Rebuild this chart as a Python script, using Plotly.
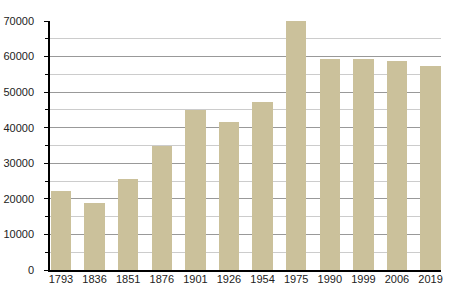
import plotly.graph_objects as go

years = ["1793", "1836", "1851", "1876", "1901", "1926", "1954", "1975", "1990", "1999", "2006", "2019"]
population = [22200, 18900, 25600, 35000, 44900, 41600, 47200, 69900, 59300, 59300, 58800, 57400]
y_ticks = [0, 10000, 20000, 30000, 40000, 50000, 60000, 70000]

fig = go.Figure()
fig.add_trace(go.Bar(
    x=list(range(len(years))), y=population,
    marker=dict(color="#cbc19b", line=dict(width=0)),
    width=0.61,
))
fig.update_layout(
    width=450, height=300,
    margin=dict(l=50, r=9, t=21, b=30),
    paper_bgcolor="white", plot_bgcolor="white",
    showlegend=False,
    font=dict(family="Liberation Sans, Arial, sans-serif", size=11, color="#333333"),
    bargap=0,
)
fig.update_xaxes(
    tickmode="array", tickvals=list(range(len(years))), ticktext=years,
    range=[-0.327, 11.31],
    showline=True, linecolor="black", linewidth=1.5,
    showgrid=False, zeroline=False, ticks="",
    ticklabelstandoff=-2, automargin=False,
    tickfont=dict(size=11, color="#222222"),
)
fig.update_yaxes(
    range=[0, 70000],
    tickmode="array", tickvals=y_ticks, ticktext=[str(v) for v in y_ticks],
    showline=True, linecolor="black", linewidth=1.5,
    showgrid=True, gridcolor="#999999", gridwidth=1,
    zeroline=False, automargin=False,
    ticks="outside", ticklen=4, tickcolor="black", tickwidth=1,
    ticklabelstandoff=8,
    minor=dict(dtick=5000, tick0=0, showgrid=True, gridcolor="#cccccc", gridwidth=1,
               ticks="outside", ticklen=3, tickcolor="black"),
    tickfont=dict(size=11, color="#222222"),
)
fig.write_html("out.html")
